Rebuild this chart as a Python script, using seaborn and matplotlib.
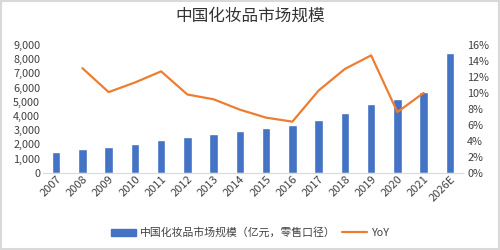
import numpy as np
import pandas as pd
import matplotlib
matplotlib.use("Agg")
import matplotlib.pyplot as plt
from matplotlib.patches import Rectangle
from matplotlib.lines import Line2D
from matplotlib.ticker import FuncFormatter
import seaborn as sns

years = ["2007", "2008", "2009", "2010", "2011", "2012", "2013", "2014",
         "2015", "2016", "2017", "2018", "2019", "2020", "2021", "2026E"]
market = [1460, 1670, 1830, 2020, 2280, 2510, 2750, 2960,
          3170, 3360, 3710, 4190, 4840, 5190, 5690, 8410]
yoy = [np.nan, 13.1, 10.1, 11.3, 12.7, 9.8, 9.2, 7.9,
       6.9, 6.4, 10.3, 13.0, 14.7, 7.6, 10.0, np.nan]

title = "中国化妆品市场规模"
bar_label = "中国化妆品市场规模（亿元，零售口径）"
line_label = "YoY"

sns.set_theme(style="white")
plt.rcParams["font.family"] = ["Noto Sans CJK SC", "DejaVu Sans"]

bar_color = "#4472C4"
line_color = "#ED7D31"
text_color = "#404040"

df = pd.DataFrame({"year": years, "market": market, "yoy": yoy})
df["pos"] = np.arange(len(years))

fig = plt.figure(figsize=(5, 2.5), dpi=100)
ax = fig.add_axes([0.086, 0.309, 0.84, 0.511])
sns.barplot(data=df, x="year", y="market", color=bar_color, width=0.33,
            saturation=1, ax=ax)
ax.set_xlim(-0.5, len(years) - 0.5)
ax.set_ylim(0, 9000)
ax.set_yticks(np.arange(0, 9001, 1000))
ax.yaxis.set_major_formatter(FuncFormatter(lambda v, p: f"{int(v):,}"))
ax.set_xlabel("")
ax.set_ylabel("")
for s in ["top", "right", "left"]:
    ax.spines[s].set_visible(False)
ax.spines["bottom"].set_color("#d9d9d9")
ax.spines["bottom"].set_linewidth(0.8)
ax.tick_params(axis="y", length=0, labelsize=7.8, colors=text_color, pad=2)
ax.tick_params(axis="x", length=0, labelsize=8, colors=text_color, pad=1)
for lbl in ax.get_xticklabels():
    lbl.set_rotation(45)
    lbl.set_ha("right")
    lbl.set_rotation_mode("anchor")

ax2 = ax.twinx()
sns.lineplot(data=df, x="pos", y="yoy", color=line_color, linewidth=1.6, ax=ax2)
ax2.set_ylim(0, 16)
ax2.set_yticks(np.arange(0, 17, 2))
ax2.yaxis.set_major_formatter(FuncFormatter(lambda v, p: f"{int(v)}%"))
ax2.set_ylabel("")
ax2.set_xlabel("")
for s in ["top", "right", "left", "bottom"]:
    ax2.spines[s].set_visible(False)
ax2.tick_params(axis="y", length=0, labelsize=7.8, colors=text_color, pad=3)
ax2.set_xlim(-0.5, len(years) - 0.5)

fig.text(0.5, 0.935, title, ha="center", va="center", fontsize=12, color="#333333")

handles = [Rectangle((0, 0), 1, 1, color=bar_color),
           Line2D([0], [0], color=line_color, linewidth=1.6)]
fig.legend(handles, [bar_label, line_label], loc="center", ncol=2,
           bbox_to_anchor=(0.5, 0.07), frameon=False, fontsize=7.8,
           handlelength=2.3, handleheight=0.6, handletextpad=0.4,
           columnspacing=0.6, labelcolor=text_color)

fig.patches.append(Rectangle((0.002, 0.004), 0.996, 0.992, transform=fig.transFigure,
                             fill=False, edgecolor="#d9d9d9", linewidth=1.5))

fig.savefig("out.png", dpi=100)
